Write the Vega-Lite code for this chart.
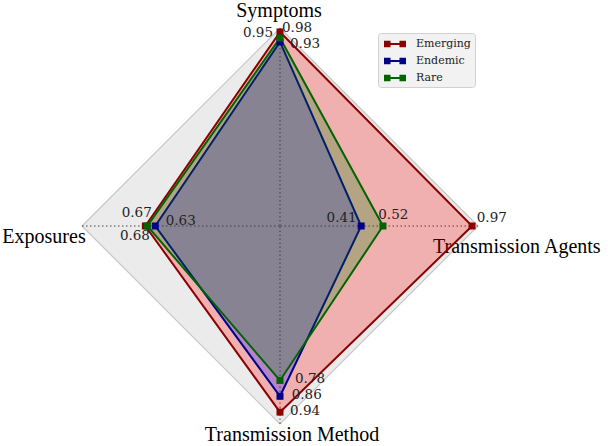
{
  "$schema": "https://vega.github.io/schema/vega-lite/v6.json",
  "width": 396,
  "height": 396,
  "autosize": {"type": "none"},
  "padding": {"left": 82, "top": 28, "right": 130, "bottom": 22},
  "background": "white",
  "config": {"view": {"stroke": null}},
  "datasets": {
    "radar": [
      {"series": "Emerging", "axis": "Symptoms", "value": 0.98},
      {"series": "Emerging", "axis": "Transmission Agents", "value": 0.97},
      {"series": "Emerging", "axis": "Transmission Method", "value": 0.94},
      {"series": "Emerging", "axis": "Exposures", "value": 0.68},
      {"series": "Endemic", "axis": "Symptoms", "value": 0.93},
      {"series": "Endemic", "axis": "Transmission Agents", "value": 0.41},
      {"series": "Endemic", "axis": "Transmission Method", "value": 0.86},
      {"series": "Endemic", "axis": "Exposures", "value": 0.63},
      {"series": "Rare", "axis": "Symptoms", "value": 0.95},
      {"series": "Rare", "axis": "Transmission Agents", "value": 0.52},
      {"series": "Rare", "axis": "Transmission Method", "value": 0.78},
      {"series": "Rare", "axis": "Exposures", "value": 0.67}
    ],
    "axes": [
      {"axis": "Symptoms", "max": 1},
      {"axis": "Transmission Agents", "max": 1},
      {"axis": "Transmission Method", "max": 1},
      {"axis": "Exposures", "max": 1}
    ]
  },
  "layer": [
    {
      "data": {"name": "axes"},
      "transform": [
        {"calculate": "indexof(['Symptoms','Transmission Agents','Transmission Method','Exposures'], datum.axis)", "as": "k"},
        {"calculate": "datum.max*sin(datum.k*PI/2)", "as": "px"},
        {"calculate": "datum.max*cos(datum.k*PI/2)", "as": "py"}
      ],
      "encoding": {
        "x": {"field": "px", "type": "quantitative", "scale": {"domain": [-1, 1], "nice": false, "zero": false}, "axis": null},
        "y": {"field": "py", "type": "quantitative", "scale": {"domain": [-1, 1], "nice": false, "zero": false}, "axis": null}
      },
      "layer": [
        {"mark": {"type": "line", "interpolate": "linear-closed", "fill": "#ebebeb", "stroke": "#c6c6c6", "strokeWidth": 1.2}, "encoding": {"order": {"field": "k", "type": "quantitative"}}},
        {"mark": {"type": "rule", "stroke": "#444", "strokeDash": [1.5, 2.5], "strokeWidth": 1}, "encoding": {"x2": {"datum": 0}, "y2": {"datum": 0}}},
        {"transform": [{"filter": "datum.axis=='Symptoms'"}], "mark": {"type": "text", "font": "Liberation Serif", "fontSize": 20, "align": "center", "baseline": "alphabetic", "dx": -1, "dy": -11.5, "color": "black"}, "encoding": {"text": {"field": "axis"}}},
        {"transform": [{"filter": "datum.axis=='Transmission Agents'"}], "mark": {"type": "text", "font": "Liberation Serif", "fontSize": 20, "align": "left", "baseline": "alphabetic", "dx": -45, "dy": 26.5, "color": "black"}, "encoding": {"text": {"field": "axis"}}},
        {"transform": [{"filter": "datum.axis=='Transmission Method'"}], "mark": {"type": "text", "font": "Liberation Serif", "fontSize": 20, "align": "center", "baseline": "alphabetic", "dx": 12, "dy": 16.7, "color": "black"}, "encoding": {"text": {"field": "axis"}}},
        {"transform": [{"filter": "datum.axis=='Exposures'"}], "mark": {"type": "text", "font": "Liberation Serif", "fontSize": 20, "align": "center", "baseline": "alphabetic", "dx": -38, "dy": 17, "color": "black"}, "encoding": {"text": {"field": "axis"}}}
      ]
    },
    {
      "data": {"name": "radar"},
      "transform": [
        {"calculate": "indexof(['Symptoms','Transmission Agents','Transmission Method','Exposures'], datum.axis)", "as": "k"},
        {"calculate": "datum.value*sin(datum.k*PI/2)", "as": "px"},
        {"calculate": "datum.value*cos(datum.k*PI/2)", "as": "py"}
      ],
      "encoding": {
        "x": {"field": "px", "type": "quantitative", "scale": {"domain": [-1, 1], "nice": false, "zero": false}, "axis": null},
        "y": {"field": "py", "type": "quantitative", "scale": {"domain": [-1, 1], "nice": false, "zero": false}, "axis": null}
      },
      "layer": [
        {
          "mark": {"type": "line", "interpolate": "linear-closed", "fillOpacity": 0.25, "strokeWidth": 2},
          "encoding": {
            "order": {"field": "k", "type": "quantitative"},
            "stroke": {"field": "series", "type": "nominal", "scale": {"range": ["#8b0000", "#00008b", "#006400"]}, "legend": null},
            "fill": {"field": "series", "type": "nominal", "scale": {"range": ["#ff0000", "#0000ff", "#008000"]}, "legend": null}
          }
        },
        {
          "mark": {"type": "point", "shape": "square", "filled": true, "size": 49, "opacity": 1},
          "encoding": {
            "color": {"field": "series", "type": "nominal", "scale": {"domain": ["Emerging", "Endemic", "Rare"], "range": ["#8b0000", "#00008b", "#006400"]},
              "legend": {"title": null, "orient": "none", "legendX": 296, "legendY": 5,
                "symbolType": "M-1.57,-0.46H-0.64V0.46H-1.57Z M0.64,-0.46H1.57V0.46H0.64Z M-0.64,-0.14H0.64V0.14H-0.64Z",
                "symbolSize": 196, "symbolStrokeWidth": 0, "symbolOffset": 6, "symbolOpacity": 1,
                "labelOffset": 14, "labelFont": "DejaVu Serif", "labelFontSize": 11, "labelColor": "#222",
                "padding": 4, "rowPadding": 5, "fillColor": "#f2f2f2", "strokeColor": "#d0d0d0", "cornerRadius": 3}}
          }
        },
        {"transform": [{"filter": "datum.series=='Emerging' && datum.axis=='Symptoms'"}], "mark": {"type": "text", "font": "DejaVu Serif", "fontSize": 13.5, "color": "#222", "align": "left", "baseline": "alphabetic", "dx": 2, "dy": 0}, "encoding": {"text": {"field": "value", "format": ".2f"}}},
        {"transform": [{"filter": "datum.series=='Rare' && datum.axis=='Symptoms'"}], "mark": {"type": "text", "font": "DejaVu Serif", "fontSize": 13.5, "color": "#222", "align": "right", "baseline": "alphabetic", "dx": -7, "dy": -1}, "encoding": {"text": {"field": "value", "format": ".2f"}}},
        {"transform": [{"filter": "datum.series=='Endemic' && datum.axis=='Symptoms'"}], "mark": {"type": "text", "font": "DejaVu Serif", "fontSize": 13.5, "color": "#222", "align": "left", "baseline": "alphabetic", "dx": 10, "dy": 6.4}, "encoding": {"text": {"field": "value", "format": ".2f"}}},
        {"transform": [{"filter": "datum.series=='Endemic' && datum.axis=='Transmission Agents'"}], "mark": {"type": "text", "font": "DejaVu Serif", "fontSize": 13.5, "color": "#222", "align": "right", "baseline": "alphabetic", "dx": -4.5, "dy": -3.7}, "encoding": {"text": {"field": "value", "format": ".2f"}}},
        {"transform": [{"filter": "datum.series=='Rare' && datum.axis=='Transmission Agents'"}], "mark": {"type": "text", "font": "DejaVu Serif", "fontSize": 13.5, "color": "#222", "align": "left", "baseline": "alphabetic", "dx": -4.7, "dy": -7}, "encoding": {"text": {"field": "value", "format": ".2f"}}},
        {"transform": [{"filter": "datum.series=='Emerging' && datum.axis=='Transmission Agents'"}], "mark": {"type": "text", "font": "DejaVu Serif", "fontSize": 13.5, "color": "#222", "align": "left", "baseline": "alphabetic", "dx": 4.7, "dy": -4.3}, "encoding": {"text": {"field": "value", "format": ".2f"}}},
        {"transform": [{"filter": "datum.series=='Rare' && datum.axis=='Transmission Method'"}], "mark": {"type": "text", "font": "DejaVu Serif", "fontSize": 13.5, "color": "#222", "align": "left", "baseline": "alphabetic", "dx": 15, "dy": 2.3}, "encoding": {"text": {"field": "value", "format": ".2f"}}},
        {"transform": [{"filter": "datum.series=='Endemic' && datum.axis=='Transmission Method'"}], "mark": {"type": "text", "font": "DejaVu Serif", "fontSize": 13.5, "color": "#222", "align": "left", "baseline": "alphabetic", "dx": 11.7, "dy": 3}, "encoding": {"text": {"field": "value", "format": ".2f"}}},
        {"transform": [{"filter": "datum.series=='Emerging' && datum.axis=='Transmission Method'"}], "mark": {"type": "text", "font": "DejaVu Serif", "fontSize": 13.5, "color": "#222", "align": "left", "baseline": "alphabetic", "dx": 10, "dy": 2.9}, "encoding": {"text": {"field": "value", "format": ".2f"}}},
        {"transform": [{"filter": "datum.series=='Rare' && datum.axis=='Exposures'"}], "mark": {"type": "text", "font": "DejaVu Serif", "fontSize": 13.5, "color": "#222", "align": "right", "baseline": "alphabetic", "dx": 4.4, "dy": -9.3}, "encoding": {"text": {"field": "value", "format": ".2f"}}},
        {"transform": [{"filter": "datum.series=='Emerging' && datum.axis=='Exposures'"}], "mark": {"type": "text", "font": "DejaVu Serif", "fontSize": 13.5, "color": "#222", "align": "right", "baseline": "alphabetic", "dx": 4.6, "dy": 14}, "encoding": {"text": {"field": "value", "format": ".2f"}}},
        {"transform": [{"filter": "datum.series=='Endemic' && datum.axis=='Exposures'"}], "mark": {"type": "text", "font": "DejaVu Serif", "fontSize": 13.5, "color": "#222", "align": "left", "baseline": "alphabetic", "dx": 10.4, "dy": -1}, "encoding": {"text": {"field": "value", "format": ".2f"}}}
      ]
    }
  ]
}
